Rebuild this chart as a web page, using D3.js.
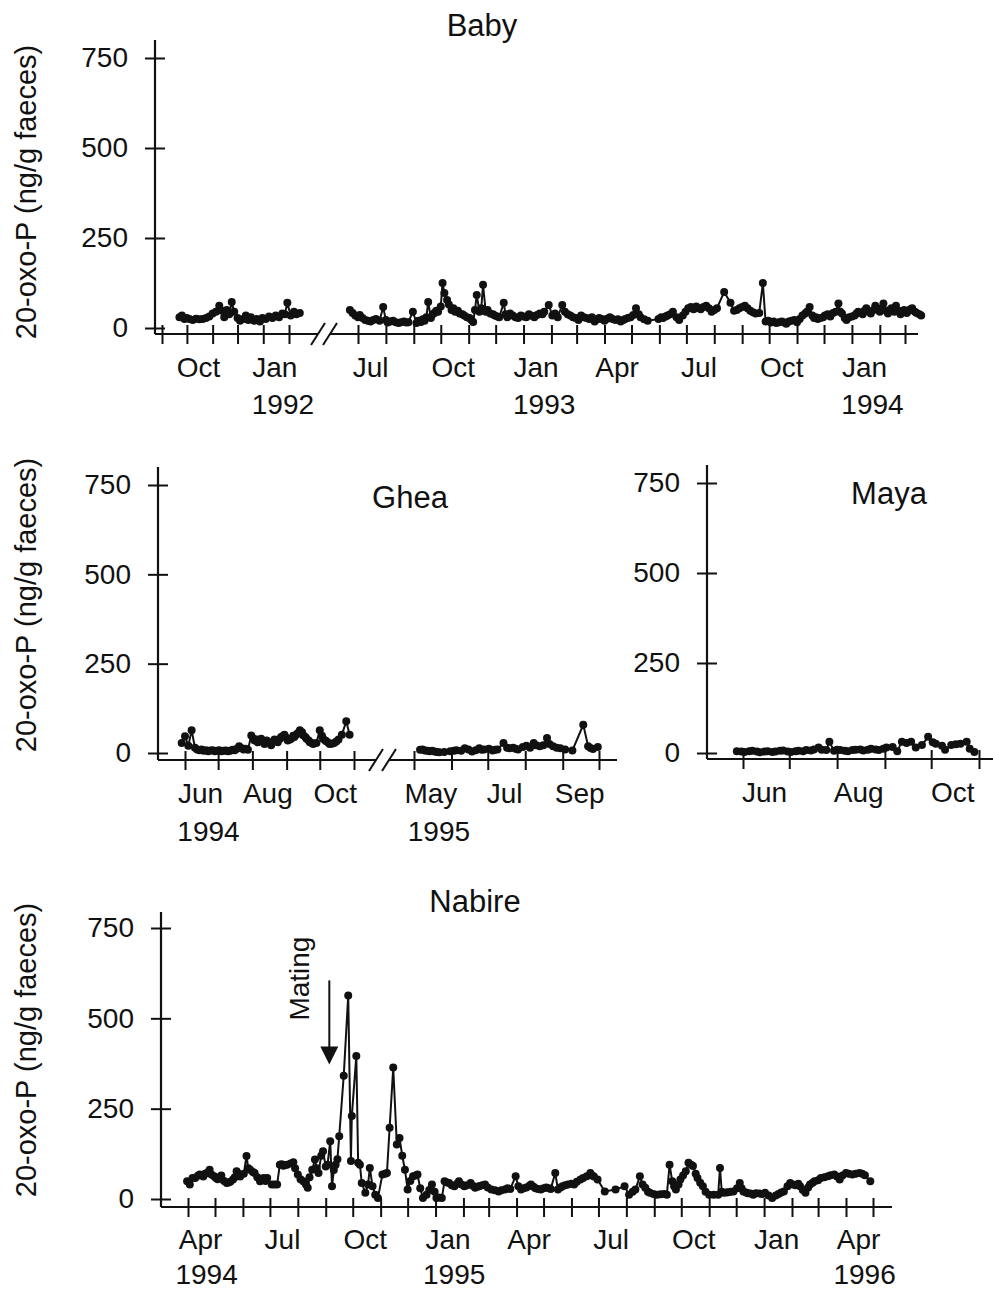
<!DOCTYPE html>
<html>
<head>
<meta charset="utf-8">
<script src="https://cdn.jsdelivr.net/npm/d3@7"></script>
<style>
  body { margin: 0; background: #fff; }
  text { font-family: "Liberation Sans", Arial, sans-serif; fill: #111; }
</style>
</head>
<body>
<svg width="993" height="1291"></svg>
<script>
// ---- data ----
var yTicks = [0, 250, 500, 750];

var babyData1 = [["1991-09-22",30],["1991-09-25",35],["1991-09-28",25],["1991-10-01",28],["1991-10-04",25],["1991-10-08",22],["1991-10-12",26],["1991-10-16",24],["1991-10-20",25],["1991-10-24",28],["1991-10-28",32],["1991-11-01",40],["1991-11-05",45],["1991-11-09",62],["1991-11-12",48],["1991-11-15",30],["1991-11-18",50],["1991-11-21",38],["1991-11-24",72],["1991-11-27",45],["1991-12-01",28],["1991-12-04",20],["1991-12-08",25],["1991-12-11",35],["1991-12-14",22],["1991-12-17",30],["1991-12-21",20],["1991-12-24",25],["1991-12-28",18],["1991-12-31",28],["1992-01-04",25],["1992-01-08",32],["1992-01-12",28],["1992-01-16",35],["1992-01-20",30],["1992-01-24",40],["1992-01-27",38],["1992-01-30",70],["1992-02-03",35],["1992-02-07",45],["1992-02-10",38],["1992-02-14",42]];

var babyData2 = [["1992-06-22",50],["1992-06-25",42],["1992-06-28",35],["1992-07-01",30],["1992-07-03",36],["1992-07-06",28],["1992-07-09",22],["1992-07-12",20],["1992-07-15",18],["1992-07-18",22],["1992-07-21",25],["1992-07-25",20],["1992-07-29",58],["1992-08-01",22],["1992-08-03",15],["1992-08-06",18],["1992-08-09",20],["1992-08-12",16],["1992-08-15",14],["1992-08-18",16],["1992-08-21",18],["1992-08-24",15],["1992-08-26",16],["1992-08-31",45],["1992-09-04",14],["1992-09-06",20],["1992-09-09",17],["1992-09-11",24],["1992-09-13",20],["1992-09-15",30],["1992-09-17",72],["1992-09-20",28],["1992-09-22",38],["1992-09-24",42],["1992-09-26",48],["1992-09-28",45],["1992-10-01",60],["1992-10-03",125],["1992-10-05",97],["1992-10-08",78],["1992-10-10",65],["1992-10-13",50],["1992-10-15",55],["1992-10-17",45],["1992-10-20",48],["1992-10-22",40],["1992-10-25",38],["1992-10-27",35],["1992-10-30",30],["1992-11-02",28],["1992-11-04",22],["1992-11-06",17],["1992-11-08",50],["1992-11-10",92],["1992-11-13",45],["1992-11-15",55],["1992-11-17",120],["1992-11-20",45],["1992-11-22",50],["1992-11-25",40],["1992-11-28",38],["1992-11-30",35],["1992-12-03",32],["1992-12-05",30],["1992-12-10",70],["1992-12-12",38],["1992-12-14",30],["1992-12-17",40],["1992-12-20",35],["1992-12-23",30],["1992-12-26",28],["1992-12-29",35],["1993-01-01",32],["1993-01-04",30],["1993-01-07",38],["1993-01-10",34],["1993-01-13",30],["1993-01-16",36],["1993-01-19",40],["1993-01-22",38],["1993-01-24",45],["1993-01-29",64],["1993-02-02",35],["1993-02-05",40],["1993-02-08",30],["1993-02-13",64],["1993-02-16",45],["1993-02-19",38],["1993-02-22",35],["1993-02-25",30],["1993-02-28",28],["1993-03-03",22],["1993-03-06",35],["1993-03-09",30],["1993-03-12",28],["1993-03-15",25],["1993-03-18",30],["1993-03-21",18],["1993-03-24",24],["1993-03-26",28],["1993-03-29",25],["1993-04-01",20],["1993-04-04",26],["1993-04-07",30],["1993-04-10",25],["1993-04-13",22],["1993-04-16",24],["1993-04-19",18],["1993-04-22",22],["1993-04-24",25],["1993-04-27",28],["1993-04-30",30],["1993-05-03",36],["1993-05-06",55],["1993-05-09",38],["1993-05-11",30],["1993-05-15",24],["1993-05-19",20],["1993-05-31",25],["1993-06-03",30],["1993-06-05",28],["1993-06-08",32],["1993-06-10",35],["1993-06-13",38],["1993-06-16",45],["1993-06-20",30],["1993-06-23",22],["1993-06-27",35],["1993-06-30",45],["1993-07-03",55],["1993-07-06",58],["1993-07-09",52],["1993-07-12",60],["1993-07-15",55],["1993-07-17",52],["1993-07-20",58],["1993-07-23",62],["1993-07-26",55],["1993-07-29",45],["1993-08-01",50],["1993-08-04",55],["1993-08-12",100],["1993-08-19",70],["1993-08-23",48],["1993-08-26",50],["1993-08-29",55],["1993-09-01",58],["1993-09-04",62],["1993-09-07",55],["1993-09-10",48],["1993-09-13",44],["1993-09-16",40],["1993-09-20",42],["1993-09-24",125],["1993-09-27",18],["1993-09-30",20],["1993-10-03",15],["1993-10-06",18],["1993-10-09",14],["1993-10-12",16],["1993-10-15",18],["1993-10-18",15],["1993-10-20",12],["1993-10-23",18],["1993-10-26",20],["1993-10-29",22],["1993-11-01",16],["1993-11-04",25],["1993-11-07",35],["1993-11-10",40],["1993-11-12",45],["1993-11-15",58],["1993-11-18",35],["1993-11-20",28],["1993-11-22",30],["1993-11-24",25],["1993-11-27",28],["1993-11-30",30],["1993-12-02",35],["1993-12-05",38],["1993-12-08",32],["1993-12-11",42],["1993-12-14",45],["1993-12-17",68],["1993-12-19",45],["1993-12-21",40],["1993-12-24",28],["1993-12-26",22],["1993-12-29",30],["1994-01-01",32],["1994-01-04",35],["1994-01-06",40],["1994-01-08",45],["1994-01-11",42],["1994-01-13",38],["1994-01-15",48],["1994-01-17",55],["1994-01-20",45],["1994-01-22",40],["1994-01-25",50],["1994-01-27",62],["1994-01-29",52],["1994-02-01",45],["1994-02-03",55],["1994-02-05",68],["1994-02-08",48],["1994-02-10",40],["1994-02-12",50],["1994-02-14",55],["1994-02-17",45],["1994-02-19",62],["1994-02-22",48],["1994-02-24",38],["1994-02-26",45],["1994-02-28",50],["1994-03-03",42],["1994-03-05",48],["1994-03-07",52],["1994-03-09",55],["1994-03-12",45],["1994-03-14",42],["1994-03-17",38],["1994-03-19",35]];

var gheaData1 = [["1994-05-29",28],["1994-06-01",47],["1994-06-04",20],["1994-06-07",64],["1994-06-10",15],["1994-06-12",10],["1994-06-14",8],["1994-06-16",10],["1994-06-18",6],["1994-06-20",8],["1994-06-22",5],["1994-06-24",7],["1994-06-26",8],["1994-06-28",5],["1994-06-30",6],["1994-07-02",8],["1994-07-04",5],["1994-07-06",6],["1994-07-08",7],["1994-07-10",5],["1994-07-12",6],["1994-07-14",9],["1994-07-16",8],["1994-07-18",12],["1994-07-20",19],["1994-07-22",14],["1994-07-24",10],["1994-07-26",12],["1994-07-28",9],["1994-07-31",49],["1994-08-02",40],["1994-08-03",35],["1994-08-05",38],["1994-08-06",30],["1994-08-08",35],["1994-08-09",40],["1994-08-11",30],["1994-08-12",25],["1994-08-14",35],["1994-08-15",30],["1994-08-17",28],["1994-08-18",22],["1994-08-20",32],["1994-08-21",38],["1994-08-23",35],["1994-08-24",30],["1994-08-26",40],["1994-08-27",45],["1994-08-29",48],["1994-08-30",51],["1994-09-01",42],["1994-09-02",35],["1994-09-04",38],["1994-09-05",40],["1994-09-07",48],["1994-09-08",45],["1994-09-10",52],["1994-09-11",55],["1994-09-13",64],["1994-09-15",58],["1994-09-16",50],["1994-09-18",45],["1994-09-19",40],["1994-09-21",35],["1994-09-22",30],["1994-09-24",28],["1994-09-25",25],["1994-09-28",28],["1994-10-01",64],["1994-10-03",48],["1994-10-04",40],["1994-10-06",35],["1994-10-07",33],["1994-10-09",28],["1994-10-10",25],["1994-10-12",26],["1994-10-14",28],["1994-10-16",32],["1994-10-18",38],["1994-10-21",51],["1994-10-25",89],["1994-10-28",51]];

var gheaData2 = [["1995-05-06",9],["1995-05-08",10],["1995-05-10",7],["1995-05-12",6],["1995-05-14",5],["1995-05-16",6],["1995-05-18",4],["1995-05-20",3],["1995-05-22",2],["1995-05-26",3],["1995-05-31",5],["1995-06-03",6],["1995-06-05",8],["1995-06-09",6],["1995-06-12",13],["1995-06-15",10],["1995-06-18",4],["1995-06-21",8],["1995-06-24",13],["1995-06-26",9],["1995-06-28",10],["1995-07-02",12],["1995-07-05",7],["1995-07-07",9],["1995-07-09",10],["1995-07-14",28],["1995-07-17",15],["1995-07-19",13],["1995-07-22",15],["1995-07-24",12],["1995-07-26",10],["1995-07-30",17],["1995-08-02",20],["1995-08-05",15],["1995-08-08",28],["1995-08-10",22],["1995-08-13",19],["1995-08-16",22],["1995-08-19",42],["1995-08-21",25],["1995-08-24",19],["1995-08-27",15],["1995-08-30",13],["1995-09-03",10],["1995-09-09",7],["1995-09-18",79],["1995-09-22",19],["1995-09-24",14],["1995-09-26",11],["1995-09-30",17]];

var mayaData = [["1995-05-28",5],["1995-05-31",4],["1995-06-02",3],["1995-06-05",5],["1995-06-07",6],["1995-06-10",4],["1995-06-12",2],["1995-06-15",4],["1995-06-17",5],["1995-06-20",3],["1995-06-22",4],["1995-06-25",6],["1995-06-27",7],["1995-06-30",4],["1995-07-02",3],["1995-07-05",5],["1995-07-07",6],["1995-07-10",5],["1995-07-12",8],["1995-07-15",7],["1995-07-17",10],["1995-07-20",15],["1995-07-22",9],["1995-07-25",8],["1995-07-27",31],["1995-07-30",6],["1995-08-01",9],["1995-08-03",8],["1995-08-06",6],["1995-08-08",5],["1995-08-11",8],["1995-08-13",9],["1995-08-16",10],["1995-08-18",7],["1995-08-21",9],["1995-08-23",12],["1995-08-26",10],["1995-08-28",8],["1995-08-31",12],["1995-09-02",15],["1995-09-06",17],["1995-09-09",5],["1995-09-12",31],["1995-09-15",28],["1995-09-18",31],["1995-09-21",15],["1995-09-25",22],["1995-09-29",45],["1995-10-02",30],["1995-10-04",26],["1995-10-08",20],["1995-10-10",9],["1995-10-14",22],["1995-10-17",24],["1995-10-20",26],["1995-10-24",31],["1995-10-26",12],["1995-10-29",3]];

var nabireData = [["1994-03-31",49],["1994-04-03",40],["1994-04-06",58],["1994-04-09",58],["1994-04-12",64],["1994-04-14",68],["1994-04-16",66],["1994-04-18",62],["1994-04-20",70],["1994-04-22",72],["1994-04-25",81],["1994-04-27",68],["1994-04-30",63],["1994-05-02",58],["1994-05-04",55],["1994-05-06",60],["1994-05-08",65],["1994-05-11",50],["1994-05-14",44],["1994-05-16",46],["1994-05-18",48],["1994-05-21",54],["1994-05-23",60],["1994-05-25",77],["1994-05-27",70],["1994-05-29",62],["1994-06-02",70],["1994-06-05",119],["1994-06-07",85],["1994-06-09",81],["1994-06-12",75],["1994-06-14",72],["1994-06-17",60],["1994-06-20",49],["1994-06-22",55],["1994-06-24",58],["1994-06-26",50],["1994-06-28",58],["1994-07-03",40],["1994-07-06",40],["1994-07-09",40],["1994-07-12",95],["1994-07-14",96],["1994-07-16",92],["1994-07-18",94],["1994-07-20",95],["1994-07-24",98],["1994-07-27",102],["1994-07-29",85],["1994-08-01",68],["1994-08-04",55],["1994-08-07",49],["1994-08-10",40],["1994-08-12",31],["1994-08-14",60],["1994-08-17",81],["1994-08-20",109],["1994-08-22",85],["1994-08-24",72],["1994-08-27",120],["1994-08-29",132],["1994-09-01",90],["1994-09-03",95],["1994-09-06",160],["1994-09-08",35],["1994-09-10",80],["1994-09-12",95],["1994-09-14",110],["1994-09-16",174],["1994-09-21",341],["1994-09-26",563],["1994-09-29",105],["1994-09-30",230],["1994-10-05",396],["1994-10-07",100],["1994-10-09",95],["1994-10-11",44],["1994-10-15",17],["1994-10-18",40],["1994-10-20",86],["1994-10-23",35],["1994-10-26",12],["1994-10-29",3],["1994-11-03",68],["1994-11-06",70],["1994-11-08",72],["1994-11-11",197],["1994-11-15",364],["1994-11-19",151],["1994-11-22",169],["1994-11-25",120],["1994-11-28",81],["1994-12-01",26],["1994-12-04",50],["1994-12-07",63],["1994-12-10",65],["1994-12-12",68],["1994-12-15",30],["1994-12-18",3],["1994-12-22",12],["1994-12-25",25],["1994-12-28",40],["1994-12-31",20],["1995-01-02",3],["1995-01-05",4],["1995-01-08",3],["1995-01-11",49],["1995-01-14",46],["1995-01-16",44],["1995-01-19",38],["1995-01-22",35],["1995-01-25",42],["1995-01-27",49],["1995-01-30",40],["1995-02-02",35],["1995-02-05",38],["1995-02-09",44],["1995-02-12",36],["1995-02-14",31],["1995-02-17",34],["1995-02-19",36],["1995-02-22",38],["1995-02-25",40],["1995-02-28",32],["1995-03-04",26],["1995-03-08",24],["1995-03-12",21],["1995-03-15",24],["1995-03-19",26],["1995-03-22",30],["1995-03-25",28],["1995-03-31",63],["1995-04-03",35],["1995-04-06",26],["1995-04-09",30],["1995-04-12",32],["1995-04-15",36],["1995-04-17",40],["1995-04-20",34],["1995-04-22",30],["1995-04-25",28],["1995-04-28",26],["1995-05-01",30],["1995-05-04",32],["1995-05-07",30],["1995-05-09",28],["1995-05-14",72],["1995-05-17",26],["1995-05-20",32],["1995-05-22",35],["1995-05-25",38],["1995-05-28",40],["1995-06-01",42],["1995-06-04",40],["1995-06-07",48],["1995-06-11",54],["1995-06-14",58],["1995-06-18",63],["1995-06-22",72],["1995-06-24",65],["1995-06-26",62],["1995-06-30",54],["1995-07-08",21],["1995-07-20",26],["1995-07-30",35],["1995-08-04",12],["1995-08-08",20],["1995-08-11",26],["1995-08-16",63],["1995-08-19",40],["1995-08-22",31],["1995-08-25",20],["1995-08-27",17],["1995-08-31",14],["1995-09-04",12],["1995-09-08",13],["1995-09-12",14],["1995-09-15",12],["1995-09-18",95],["1995-09-21",49],["1995-09-23",35],["1995-09-25",26],["1995-09-28",40],["1995-09-30",54],["1995-10-03",65],["1995-10-06",77],["1995-10-09",100],["1995-10-12",95],["1995-10-14",91],["1995-10-17",70],["1995-10-19",58],["1995-10-22",45],["1995-10-25",35],["1995-10-28",20],["1995-11-01",12],["1995-11-06",12],["1995-11-11",12],["1995-11-13",86],["1995-11-15",20],["1995-11-17",17],["1995-11-20",18],["1995-11-22",19],["1995-11-25",20],["1995-11-28",21],["1995-12-02",30],["1995-12-05",44],["1995-12-07",30],["1995-12-09",21],["1995-12-12",18],["1995-12-14",16],["1995-12-17",15],["1995-12-20",12],["1995-12-23",16],["1995-12-27",15],["1995-12-30",14],["1996-01-02",17],["1996-01-06",10],["1996-01-10",3],["1996-01-14",10],["1996-01-17",14],["1996-01-20",18],["1996-01-23",21],["1996-01-27",35],["1996-01-30",44],["1996-02-02",40],["1996-02-05",38],["1996-02-08",42],["1996-02-10",35],["1996-02-13",25],["1996-02-16",17],["1996-02-19",32],["1996-02-21",40],["1996-02-24",45],["1996-02-26",49],["1996-03-01",52],["1996-03-04",58],["1996-03-08",60],["1996-03-12",63],["1996-03-15",66],["1996-03-19",68],["1996-03-22",62],["1996-03-25",54],["1996-03-28",65],["1996-04-01",72],["1996-04-04",70],["1996-04-08",68],["1996-04-12",70],["1996-04-16",72],["1996-04-19",70],["1996-04-22",66],["1996-04-28",49]];

var babyLabels1 = [["1991-10", "Oct"], ["1992-01", "Jan"]];
var babyLabels2 = [["1992-07", "Jul"], ["1992-10", "Oct"], ["1993-01", "Jan"], ["1993-04", "Apr"], ["1993-07", "Jul"], ["1993-10", "Oct"], ["1994-01", "Jan"]];
var babyYears = [["1992-01", "1992"], ["1993-01", "1993"], ["1994-01", "1994"]];
var gheaLabels1 = [["1994-06", "Jun"], ["1994-08", "Aug"], ["1994-10", "Oct"]];
var gheaLabels2 = [["1995-05", "May"], ["1995-07", "Jul"], ["1995-09", "Sep"]];
var gheaYears = [["1994-06", "1994"], ["1995-05", "1995"]];
var mayaLabels = [["1995-06", "Jun"], ["1995-08", "Aug"], ["1995-10", "Oct"]];
var nabireLabels = [["1994-04", "Apr"], ["1994-07", "Jul"], ["1994-10", "Oct"], ["1995-01", "Jan"], ["1995-04", "Apr"], ["1995-07", "Jul"], ["1995-10", "Oct"], ["1996-01", "Jan"], ["1996-04", "Apr"]];
var nabireYears = [["1994-04", "1994"], ["1995-01", "1995"], ["1996-04", "1996"]];

var yTitle = "20-oxo-P (ng/g faeces)";

// ---- drawing ----
var svg = d3.select("svg");
var parse = d3.timeParse("%Y-%m-%d");
var ink = "#111";

function midMonth(s) { return parse(s + "-15"); }

function yAxis(y, ax, top, bottom) {
    var g = svg.append("g").attr("transform", "translate(" + ax + ",0)")
        .call(d3.axisLeft(y).tickValues(yTicks).tickSize(10).tickPadding(17));
    g.attr("font-size", 28).attr("font-family", null);
    g.select(".domain").remove();
    g.selectAll(".tick line").attr("x1", 10).attr("stroke-width", 2).attr("stroke", ink);
    svg.append("line")
        .attr("x1", ax).attr("x2", ax).attr("y1", top).attr("y2", bottom)
        .attr("stroke", ink).attr("stroke-width", 2.2);
}

function xAxisLine(x0, x1, ay) {
    svg.append("line")
        .attr("x1", x0).attr("x2", x1).attr("y1", ay).attr("y2", ay)
        .attr("stroke", ink).attr("stroke-width", 2.2);
}

function xTicks(x, from, to, ay) {
    var g = svg.append("g").attr("transform", "translate(0," + ay + ")")
        .call(d3.axisBottom(x)
            .tickValues(d3.timeMonth.range(parse(from), parse(to)))
            .tickSize(10)
            .tickFormat(""));
    g.select(".domain").remove();
    g.selectAll(".tick line").attr("y1", -9).attr("stroke-width", 2).attr("stroke", ink);
}

function xLabels(x, labels, ay, dy, dx) {
    svg.append("g").selectAll("text")
        .data(labels)
        .enter().append("text")
        .attr("x", function (d) { return x(midMonth(d[0])) + dx; })
        .attr("y", ay + dy)
        .attr("text-anchor", "middle")
        .attr("font-size", 28)
        .text(function (d) { return d[1]; });
}

function series(data, x, y) {
    var line = d3.line()
        .x(function (d) { return x(parse(d[0])); })
        .y(function (d) { return y(d[1]); });
    svg.append("path")
        .datum(data)
        .attr("d", line)
        .attr("fill", "none")
        .attr("stroke", ink)
        .attr("stroke-width", 2);
    svg.append("g").selectAll("circle")
        .data(data)
        .enter().append("circle")
        .attr("cx", function (d) { return x(parse(d[0])); })
        .attr("cy", function (d) { return y(d[1]); })
        .attr("r", 4)
        .attr("fill", ink);
}

function axisBreak(xa, xb, ay) {
    svg.append("rect")
        .attr("x", xa).attr("y", ay - 3).attr("width", xb - xa).attr("height", 6)
        .attr("fill", "#fff");
    [xa, xb].forEach(function (cx) {
        svg.append("line")
            .attr("x1", cx - 7).attr("y1", ay + 11).attr("x2", cx + 7).attr("y2", ay - 11)
            .attr("stroke", ink).attr("stroke-width", 2);
    });
}

function title(text, x, y) {
    svg.append("text").attr("x", x).attr("y", y)
        .attr("text-anchor", "middle").attr("font-size", 31).text(text);
}

function yLabel(cy) {
    svg.append("text")
        .attr("transform", "translate(36," + cy + ") rotate(-90)")
        .attr("text-anchor", "middle")
        .attr("font-size", 29)
        .text(yTitle);
}

// Baby
var babyY = d3.scaleLinear().domain([0, 750]).range([328, 58]);
var babyX1 = d3.scaleTime().domain([parse("1991-09-01"), parse("1992-02-01")]).range([162, 289]);
var babyX2 = d3.scaleTime().domain([parse("1992-07-01"), parse("1994-03-01")]).range([358, 905]);
xAxisLine(155, 918, 334);
axisBreak(318, 330, 334);
xTicks(babyX1, "1991-09-01", "1992-02-02", 334);
xTicks(babyX2, "1992-07-01", "1994-03-02", 334);
yAxis(babyY, 155, 40, 334);
xLabels(babyX1, babyLabels1, 334, 43, 0);
xLabels(babyX2, babyLabels2, 334, 43, 0);
xLabels(function (d) { return d < parse("1992-06-01") ? babyX1(d) : babyX2(d); }, babyYears, 334, 80, 8);
series(babyData1, babyX1, babyY);
series(babyData2, babyX2, babyY);
title("Baby", 482, 36);
yLabel(192);

// Ghea
var gheaY = d3.scaleLinear().domain([0, 750]).range([753, 485]);
var gheaX1 = d3.scaleTime().domain([parse("1994-06-01"), parse("1994-11-01")]).range([185, 354]);
var gheaX2 = d3.scaleTime().domain([parse("1995-05-01"), parse("1995-10-01")]).range([414, 599]);
xAxisLine(158, 617, 760);
axisBreak(376, 389, 760);
xTicks(gheaX1, "1994-06-01", "1994-11-02", 760);
xTicks(gheaX2, "1995-05-01", "1995-10-02", 760);
yAxis(gheaY, 158, 467, 760);
xLabels(gheaX1, gheaLabels1, 760, 43, 0);
xLabels(gheaX2, gheaLabels2, 760, 43, 0);
xLabels(function (d) { return d < parse("1995-01-01") ? gheaX1(d) : gheaX2(d); }, gheaYears, 760, 81, 8);
series(gheaData1, gheaX1, gheaY);
series(gheaData2, gheaX2, gheaY);
title("Ghea", 410, 508);
yLabel(605);

// Maya
var mayaY = d3.scaleLinear().domain([0, 750]).range([753, 483]);
var mayaX = d3.scaleTime().domain([parse("1995-06-01"), parse("1995-11-01")]).range([743, 979]);
xAxisLine(707, 993, 759);
xTicks(mayaX, "1995-06-01", "1995-11-02", 759);
yAxis(mayaY, 707, 465, 759);
xLabels(mayaX, mayaLabels, 759, 43, 0);
series(mayaData, mayaX, mayaY);
title("Maya", 889, 504);

// Nabire
var nabireY = d3.scaleLinear().domain([0, 750]).range([1199, 928]);
var nabireX = d3.scaleTime().domain([parse("1994-04-01"), parse("1996-05-01")]).range([188, 873]);
xAxisLine(161, 892, 1207);
xTicks(nabireX, "1994-04-01", "1996-05-02", 1207);
yAxis(nabireY, 161, 912, 1207);
xLabels(nabireX, nabireLabels, 1207, 42, 0);
xLabels(nabireX, nabireYears, 1207, 77, 6);
series(nabireData, nabireX, nabireY);
title("Nabire", 475, 912);
yLabel(1050);

// mating arrow
var mx = nabireX(parse("1994-09-05"));
svg.append("line")
    .attr("x1", mx).attr("x2", mx)
    .attr("y1", nabireY(605)).attr("y2", nabireY(420))
    .attr("stroke", ink).attr("stroke-width", 2);
svg.append("path")
    .attr("d", "M" + (mx - 9) + "," + nabireY(422) + "L" + (mx + 9) + "," + nabireY(422) + "L" + mx + "," + nabireY(372) + "Z")
    .attr("fill", ink);
svg.append("text")
    .attr("transform", "translate(" + (mx - 20) + "," + nabireY(610) + ") rotate(-90)")
    .attr("text-anchor", "middle")
    .attr("font-size", 28)
    .text("Mating");
</script>
</body>
</html>
